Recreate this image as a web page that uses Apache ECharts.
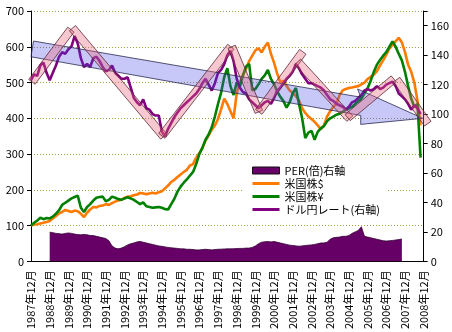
<!DOCTYPE html>
<html>
<head>
<meta charset="utf-8">
<script src="https://cdn.jsdelivr.net/npm/echarts@6/dist/echarts.min.js"></script>
<style>
html,body{margin:0;padding:0;background:#fff;}
#chart{width:452px;height:332px;}
</style>
</head>
<body>
<div id="chart"></div>
<script>
// Bimonthly observations, December 1987 through October 2008 (axis runs to December 2008)
const START_YEAR = 1987;
const START_MONTH = 12;
const STEP_MONTHS = 2;
const N_CATEGORIES = 127;

const CATEGORIES = [];
for (let k = 0; k < N_CATEGORIES; k++) {
  const m0 = (START_MONTH - 1) + k * STEP_MONTHS;
  CATEGORIES.push((START_YEAR + Math.floor(m0 / 12)) + '年' + ((m0 % 12) + 1) + '月');
}

// US stock index in dollars (Dec 1987 = 100), left axis
const US_STOCK_USD = [
  100,103,104,106,108,110,113,120,127,134,
  138,144,141,138,142,140,133,124,136,145,
  152,151,155,156,160,158,163,167,170,172,
  178,181,182,185,187,191,190,188,190,192,
  190,193,196,204,212,222,228,236,243,250,
  256,268,272,290,302,316,338,352,368,380,
  398,425,455,440,420,400,470,500,520,538,
  560,575,590,596,584,600,612,580,555,525,
  500,505,490,478,470,462,450,428,415,405,
  398,390,380,370,380,405,420,432,440,465,
  478,482,485,486,488,490,495,500,510,516,
  522,532,548,562,578,595,605,615,625,612,
  585,550,530,500,450,380
];

// Same index converted to yen, left axis
const US_STOCK_JPY = [
  100,108,114,122,118,121,120,125,133,143,
  158,164,170,176,180,184,150,138,152,160,
  170,178,180,181,168,172,181,178,174,172,
  176,179,176,172,166,160,165,154,152,150,
  151,152,150,146,145,160,175,195,209,220,
  229,240,250,272,300,318,340,355,375,405,
  440,472,515,540,490,465,500,488,520,545,
  552,478,482,495,510,520,535,510,495,475,
  460,448,430,445,470,485,440,400,345,360,
  365,340,362,372,378,392,400,405,410,413,
  418,424,428,432,440,448,455,470,484,505,
  530,550,563,575,585,600,615,600,580,562,
  530,490,455,432,440,290
];

// Dollar-yen exchange rate, right axis
const USD_JPY = [
  123,127,126,133,135,128,123,128,133,139,
  142,141,144,146,153,148,138,132,134,132,
  138,139,136,132,129,130,133,128,126,124,
  124,125,118,111,108,106,110,104,103,100,
  99,99,88,85,90,94,98,101,104,106,
  108,110,112,114,117,121,124,120,116,121,
  128,130,134,140,143,136,124,118,115,114,
  110,108,106,104,106,108,109,107,111,116,
  118,121,124,126,129,134,131,127,124,121,
  121,120,119,118,116,113,110,109,107,106,
  105,103,105,108,109,111,113,116,117,116,
  117,119,117,118,120,121,122,119,114,112,
  110,107,103,106,104,100
];

// Price/earnings ratio, right axis (Dec 1988 - late 2007)
const PER = [
  null,null,null,null,null,null,19.8,19.5,19,18.8,
  18.5,19,19.3,19,18.5,18.2,18,18.3,18,17.6,
  17.5,17,16.5,16,15.5,14,10.5,9,8.5,9,
  10,11.2,12,12.5,13.2,13.5,13,12.5,12,11.5,
  11,10.5,10.2,9.8,9.5,9.2,9,8.8,8.5,8.5,
  8.2,8.2,8,7.8,7.8,8,8.2,8,7.8,8,
  8.2,8.3,8.4,8.5,8.5,8.6,8.7,8.8,8.8,9,
  9,9.5,10.5,12,13,13.3,13.5,13.2,13.5,13,
  12.5,12,11.5,11,10.8,10.5,10.3,10.5,10.8,11,
  11.2,11.5,12,12.5,12.5,13,15,16,16.3,16.5,
  17,17,17.5,19,20,21,23.5,17,16.5,16,
  15.5,15,14.5,14,13.8,14,14.2,14.5,14.8,15.2,
  null,null,null,null,null,null
];

const LEFT_TICKS = { min: 0, max: 700, interval: 100 };
const RIGHT_TICKS = { min: 0, max: 170, interval: 20 };

const NAMES = ['PER(倍)右軸', '米国株$', '米国株¥', 'ドル円レート(右軸)'];

// Long-run downtrend arrow, vertices as [period index, left-axis value]
const TREND_ARROW = [
  [0.8, 616], [105.8, 459], [104.8, 482], [125.7, 400],
  [105.8, 383], [105.8, 408], [0, 572]
];

// Zigzag swing bands of the exchange rate: [from index, from value, to index, to value]
const SWING_BANDS = [
  [0.3, 502, 12.8, 648],
  [13.3, 652, 42.6, 349],
  [42.0, 351, 64.1, 600],
  [64.4, 600, 73.1, 418],
  [73.1, 418, 87.2, 586],
  [85.6, 558, 102.3, 399],
  [101.6, 402, 116.4, 510],
  [117.3, 508, 127.3, 385]
];

const FONT = '"Noto Sans CJK JP", "Noto Sans", sans-serif';
const SWING_HALF_WIDTH = 4;

function swingBand(params, api) {
  const a = api.coord([api.value(0), api.value(1)]);
  const b = api.coord([api.value(2), api.value(3)]);
  const dx = b[0] - a[0], dy = b[1] - a[1];
  const len = Math.hypot(dx, dy) || 1;
  const nx = -dy / len * SWING_HALF_WIDTH, ny = dx / len * SWING_HALF_WIDTH;
  return {
    type: 'polygon',
    shape: { points: [
      [a[0] + nx, a[1] + ny], [b[0] + nx, b[1] + ny],
      [b[0] - nx, b[1] - ny], [a[0] - nx, a[1] - ny]
    ] },
    style: { fill: 'rgba(235,98,121,0.35)', stroke: '#5a2a38', lineWidth: 0.8 }
  };
}

function trendArrow(params, api) {
  return {
    type: 'polygon',
    shape: { points: TREND_ARROW.map(p => api.coord(p)) },
    style: { fill: 'rgba(72,72,232,0.3)', stroke: '#2a2a50', lineWidth: 0.8 }
  };
}

const hiddenMarker = { color: 'rgba(0,0,0,0)', borderColor: 'rgba(0,0,0,0)', borderWidth: 0, opacity: 0 };

const chart = echarts.init(document.getElementById('chart'), null, { renderer: 'canvas' });

chart.setOption({
  animation: false,
  backgroundColor: '#fff',
  textStyle: { fontFamily: FONT },
  grid: { left: 31, right: 28, top: 11, bottom: 70 },
  legend: {
    orient: 'vertical',
    left: 243, top: 161,
    padding: [3, 6, 3, 8],
    backgroundColor: '#fff',
    itemWidth: 27, itemHeight: 7, itemGap: 0,
    textStyle: { fontSize: 11, color: '#000', fontFamily: FONT, lineHeight: 13 },
    data: [
      { name: NAMES[0], icon: 'rect', itemStyle: { color: '#660066', borderColor: '#111', borderWidth: 1 } },
      { name: NAMES[1], itemStyle: hiddenMarker, lineStyle: { width: 3 } },
      { name: NAMES[2], itemStyle: hiddenMarker, lineStyle: { width: 3 } },
      { name: NAMES[3], itemStyle: hiddenMarker, lineStyle: { width: 3 } }
    ]
  },
  xAxis: [
    {
      type: 'category',
      data: CATEGORIES,
      boundaryGap: false,
      axisLine: { lineStyle: { color: '#000', width: 1 } },
      axisTick: { show: false },
      axisLabel: {
        interval: (i, v) => v.endsWith('年12月'),
        rotate: 90, fontSize: 11, color: '#000', margin: 9, fontFamily: FONT
      },
      splitLine: { show: false }
    },
    { type: 'value', min: 0, max: N_CATEGORIES - 1, show: false }
  ],
  yAxis: [
    {
      type: 'value', position: 'left',
      min: LEFT_TICKS.min, max: LEFT_TICKS.max, interval: LEFT_TICKS.interval,
      axisLine: { show: true, lineStyle: { color: '#000', width: 1 } },
      axisTick: { show: true, length: 4, lineStyle: { color: '#000' } },
      axisLabel: { color: '#000', fontSize: 11, margin: 7, fontFamily: FONT },
      splitLine: { show: true, lineStyle: { color: '#a0a040', type: [1, 2], width: 1 } }
    },
    {
      type: 'value', position: 'right',
      min: RIGHT_TICKS.min, max: RIGHT_TICKS.max, interval: RIGHT_TICKS.interval,
      axisLine: { show: true, lineStyle: { color: '#000', width: 1 } },
      axisTick: { show: true, length: 4, lineStyle: { color: '#000' } },
      axisLabel: {
        color: '#000', fontSize: 11, margin: 7, fontFamily: FONT,
        formatter: v => (v % RIGHT_TICKS.interval === 0 ? String(v) : '')
      },
      splitLine: { show: false }
    }
  ],
  series: [
    {
      name: NAMES[0], type: 'line', xAxisIndex: 0, yAxisIndex: 1,
      data: PER, symbol: 'none',
      lineStyle: { width: 0.8, color: '#330033' },
      itemStyle: { color: '#660066' },
      areaStyle: { color: '#660066', opacity: 1 },
      z: 1
    },
    {
      name: NAMES[1], type: 'line', xAxisIndex: 0, yAxisIndex: 0,
      data: US_STOCK_USD, symbol: 'none',
      lineStyle: { width: 2.6, color: '#ff7a00' },
      itemStyle: { color: '#ff7a00' }, z: 2
    },
    {
      name: NAMES[2], type: 'line', xAxisIndex: 0, yAxisIndex: 0,
      data: US_STOCK_JPY, symbol: 'none',
      lineStyle: { width: 2.6, color: '#008000' },
      itemStyle: { color: '#008000' }, z: 2
    },
    {
      name: NAMES[3], type: 'line', xAxisIndex: 0, yAxisIndex: 1,
      data: USD_JPY, symbol: 'none',
      lineStyle: { width: 2.6, color: '#800080' },
      itemStyle: { color: '#800080' }, z: 2
    },
    {
      type: 'custom', xAxisIndex: 1, yAxisIndex: 0,
      renderItem: trendArrow, data: [[0, 0]], silent: true, z: 3, clip: false
    },
    {
      type: 'custom', xAxisIndex: 1, yAxisIndex: 0,
      renderItem: swingBand, data: SWING_BANDS, silent: true, z: 3, clip: false,
      encode: { x: [0, 2], y: [1, 3] }
    }
  ]
});
</script>
</body>
</html>
